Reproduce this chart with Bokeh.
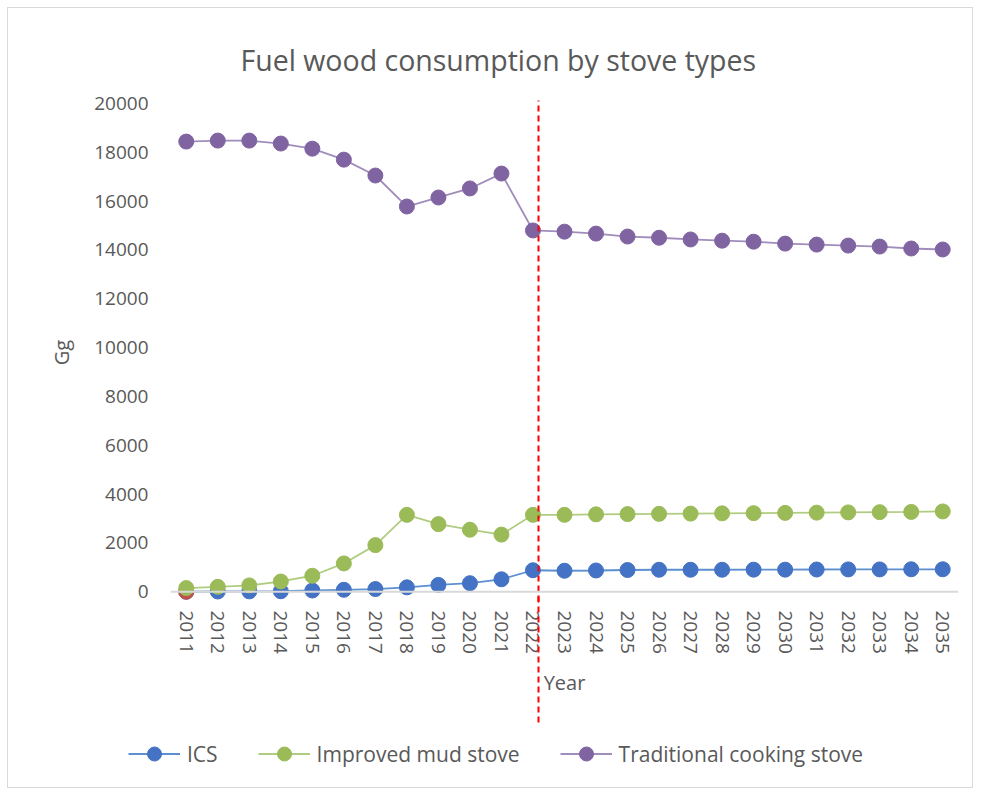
from bokeh.plotting import figure
from bokeh.models import (Range1d, FixedTicker, Span, Legend, LegendItem, LinearAxis,
                          ColumnDataSource, Title)
from bokeh.embed import file_html
from bokeh.resources import INLINE

years = list(range(2011, 2036))
ics = [0, 10, 15, 20, 50, 80, 110, 180, 280, 350, 510, 880,
       860, 870, 890, 900, 900, 900, 905, 905, 910, 915, 915, 920, 920]
mud = [150, 200, 260, 420, 655, 1160, 1910, 3150, 2770, 2540, 2340, 3150,
       3150, 3170, 3180, 3190, 3200, 3210, 3220, 3230, 3240, 3250, 3260, 3270, 3290]
trad = [18440, 18480, 18480, 18360, 18150, 17700, 17050, 15780, 16150, 16520, 17130, 14800,
        14750, 14670, 14550, 14500, 14430, 14380, 14340, 14260, 14220, 14180, 14140, 14060, 14020]
red_years = [2011]
red_vals = [0]
y_ticks = list(range(0, 20001, 2000))
split_year = [2022.16]

FONT = "Open Sans"
GREY = "#595959"
BORDER = "1px solid #d9d9d9"

p = figure(width=966, height=728, output_backend="svg", toolbar_location=None,
           x_range=Range1d(2010.5, 2035.5), y_range=Range1d(-400, 20000),
           min_border_left=162, min_border_right=16, min_border_top=95,
           min_border_bottom=135)
p.styles = {"border-left": BORDER, "border-right": BORDER, "border-top": BORDER,
            "margin-left": "7px", "margin-top": "7px", "vertical-align": "top"}

p.title = Title(text="Fuel wood consumption by stove types", align="left", offset=70,
                text_font=FONT, text_font_size="28.5px", text_color=GREY,
                text_font_style="normal", standoff=50)

p.xgrid.visible = False
p.ygrid.visible = False
p.outline_line_color = None

p.yaxis.ticker = FixedTicker(ticks=y_ticks)
p.yaxis.axis_line_color = None
p.yaxis.major_tick_line_color = None
p.yaxis.minor_tick_line_color = None
p.yaxis.major_label_text_font = FONT
p.yaxis.major_label_text_font_size = "19px"
p.yaxis.major_label_text_color = GREY
p.yaxis.major_label_standoff = 16
p.yaxis.axis_label = "Gg"
p.yaxis.axis_label_text_font = FONT
p.yaxis.axis_label_text_font_size = "20px"
p.yaxis.axis_label_text_font_style = "normal"
p.yaxis.axis_label_text_color = GREY
p.yaxis.axis_label_standoff = 16

# x axis; its single minor tick draws the dashed split line across the plot area
xax = p.xaxis[0]
xax.ticker = FixedTicker(ticks=years, minor_ticks=split_year)
xax.axis_line_color = None
xax.major_tick_line_color = None
xax.minor_tick_line_color = "#FF0000"
xax.minor_tick_line_width = 2
xax.minor_tick_line_dash = "6 4"
xax.minor_tick_in = 501
xax.minor_tick_out = 0
xax.major_tick_in = 0
xax.major_tick_out = 0
xax.major_label_orientation = "vertical"
xax.major_label_text_font = FONT
xax.major_label_text_font_size = "19px"
xax.major_label_text_color = GREY
xax.major_label_standoff = 9
xax.axis_label = "Year"
xax.axis_label_text_font = FONT
xax.axis_label_text_font_size = "20px"
xax.axis_label_text_font_style = "normal"
xax.axis_label_text_color = GREY
xax.axis_label_standoff = 12

# second, label-less axis below: its minor tick continues the dashed line through the axis area
split_axis = LinearAxis(ticker=FixedTicker(ticks=[], minor_ticks=split_year),
                        axis_line_color=None, major_tick_line_color=None,
                        major_tick_in=0, major_tick_out=0,
                        minor_tick_line_color="#FF0000", minor_tick_line_width=2,
                        minor_tick_line_dash="6 4", minor_tick_in=104, minor_tick_out=24)
p.add_layout(split_axis, "below")

p.add_layout(Span(location=0, dimension="width", line_color="#d9d9d9", line_width=2))

src = ColumnDataSource(dict(year=years, ics=ics, mud=mud, trad=trad))
series = [("ics", "ICS", "#4472C4", "#5B8FD0"),
          ("mud", "Improved mud stove", "#9BBB59", "#B0CC80"),
          ("trad", "Traditional cooking stove", "#8064A2", "#A08DBB")]

# legend strip below the chart (its glyph copies lie outside its own empty view)
lg = figure(width=966, height=53, output_backend="svg", toolbar_location=None,
            x_range=Range1d(2010.5, 2035.5), y_range=Range1d(-2, -1),
            x_axis_type=None, y_axis_type=None, min_border=0)
lg.styles = {"border-left": BORDER, "border-right": BORDER, "border-bottom": BORDER,
             "margin-left": "7px", "display": "block"}
lg.xgrid.visible = False
lg.ygrid.visible = False
lg.outline_line_color = None

items = []
for col, label, mc, lc in series:
    p.line("year", col, source=src, line_color=lc, line_width=1.8)
    p.scatter("year", col, source=src, size=15, fill_color=mc, line_color=mc)
    if col == "ics":
        p.scatter(red_years, red_vals, size=15, fill_color="#C0504D", line_color="#C0504D")
    gl = lg.line("year", col, source=src, line_color=lc, line_width=1.8)
    gc = lg.scatter("year", col, source=src, size=15, fill_color=mc, line_color=mc)
    items.append(LegendItem(label=label, renderers=[gl, gc]))

legend = Legend(items=items, orientation="horizontal", location=(120, 17),
                label_text_font=FONT, label_text_font_size="21px", label_text_color=GREY,
                glyph_width=52, glyph_height=35, label_standoff=7, spacing=40,
                border_line_color=None, background_fill_alpha=0, margin=0, padding=0)
lg.add_layout(legend)

open("out.html", "w").write(file_html([p, lg], INLINE))
